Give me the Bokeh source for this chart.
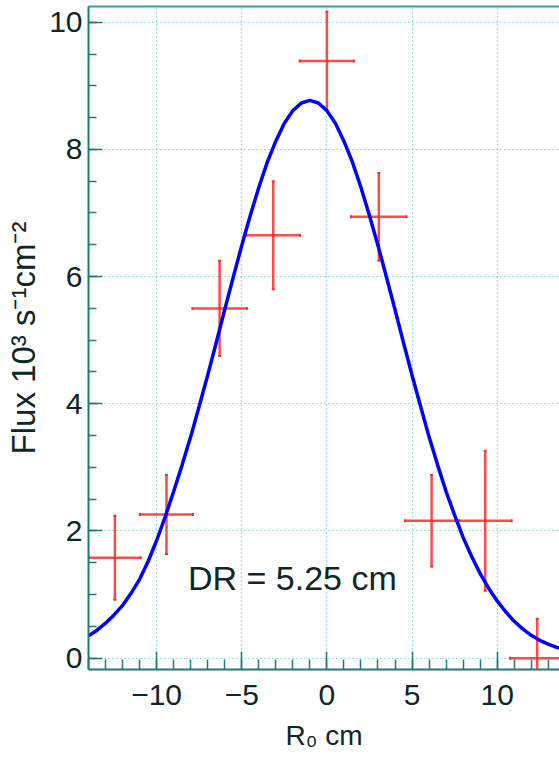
from bokeh.plotting import figure
from bokeh.models import (ColumnDataSource, Range1d, SingleIntervalTicker, LinearAxis,
                          FixedTicker, Whisker, TeeHead, Label)
from bokeh.embed import file_html
from bokeh.resources import INLINE

# ---- data ----
r0 = [-12.45, -9.42, -6.3, -3.15, 0.0, 3.05, 6.15, 9.3, 12.35]
flux = [1.58, 2.26, 5.50, 6.65, 9.39, 6.94, 2.16, 2.16, 0.0]
r0_err = [1.52, 1.56, 1.6, 1.57, 1.6, 1.63, 1.57, 1.55, 1.6]
flux_err = [0.66, 0.62, 0.75, 0.85, 0.78, 0.69, 0.72, 1.10, 0.62]

fit_x = [-14.0, -13.5, -13.0, -12.5, -12.0, -11.5, -11.0, -10.5, -10.0, -9.5,
         -9.0, -8.5, -8.0, -7.5, -7.0, -6.5, -6.0, -5.5, -5.0, -4.5,
         -4.0, -3.5, -3.0, -2.5, -2.0, -1.5, -1.0, -0.5, 0.0, 0.5,
         1.0, 1.5, 2.0, 2.5, 3.0, 3.5, 4.0, 4.5, 5.0, 5.5,
         6.0, 6.5, 7.0, 7.5, 8.0, 8.5, 9.0, 9.5, 10.0, 10.5,
         11.0, 11.5, 12.0, 12.5, 13.0, 13.5, 14.0]
fit_y = [0.35, 0.44, 0.55, 0.68, 0.83, 1.02, 1.24, 1.52, 1.85, 2.22,
         2.62, 3.04, 3.48, 3.96, 4.45, 4.96, 5.48, 5.99, 6.49, 6.96,
         7.40, 7.80, 8.13, 8.41, 8.61, 8.73, 8.77, 8.73, 8.61, 8.41,
         8.13, 7.80, 7.40, 6.96, 6.49, 5.99, 5.48, 4.96, 4.45, 3.96,
         3.48, 3.04, 2.62, 2.25, 1.90, 1.60, 1.33, 1.10, 0.90, 0.73,
         0.58, 0.46, 0.36, 0.28, 0.22, 0.17, 0.13]

x_ticks_labels = {-10: "\u221210", -5: "\u22125", 0: "0", 5: "5", 10: "10"}
annotation = "DR = 5.25 cm"
x_title = "R\u2080 cm"
y_title = "Flux 10\u00b3 s\u207b\u00b9cm\u207b\u00b2"

FONT = "Liberation Sans"
TXT = "#0d2626"
AX = "#1f7878"
RED = "#ff2a2a"

src = ColumnDataSource(dict(
    x=r0, y=flux,
    xl=[a - b for a, b in zip(r0, r0_err)], xu=[a + b for a, b in zip(r0, r0_err)],
    yl=[a - b for a, b in zip(flux, flux_err)], yu=[a + b for a, b in zip(flux, flux_err)],
))

p = figure(width=559, height=760, output_backend="svg", toolbar_location=None,
           x_range=Range1d(-14.0, 13.66), y_range=Range1d(-0.178, 10.247),
           min_border_left=88, min_border_right=0, min_border_top=6, min_border_bottom=91,
           x_axis_label=x_title, y_axis_label=y_title)
p.outline_line_color = None
p.background_fill_color = "white"
p.border_fill_color = "white"

# axes
p.xaxis.ticker = SingleIntervalTicker(interval=5, num_minor_ticks=5)
p.yaxis.ticker = SingleIntervalTicker(interval=2, num_minor_ticks=4)
p.xaxis.major_label_overrides = x_ticks_labels
for ax in (p.xaxis, p.yaxis):
    ax.axis_line_color = AX
    ax.axis_line_width = 2
    ax.major_tick_line_color = AX
    ax.minor_tick_line_color = AX
    ax.major_tick_line_width = 1.5
    ax.minor_tick_line_width = 1.5
    ax.major_tick_out = 0
    ax.minor_tick_out = 0
    ax.major_label_text_font = FONT
    ax.major_label_text_font_size = "30px"
    ax.major_label_text_color = TXT
    ax.axis_label_text_font = FONT
    ax.axis_label_text_font_style = "normal"
    ax.axis_label_text_color = TXT
p.xaxis.axis_label_text_font_size = "28px"
p.yaxis.axis_label_text_font_size = "33px"
p.xaxis.major_tick_in = 18
p.xaxis.minor_tick_in = 10
p.yaxis.major_tick_in = 14
p.yaxis.minor_tick_in = 8
p.xaxis.major_label_standoff = 15
p.xaxis.axis_label_standoff = 12
p.yaxis.major_label_standoff = 6
p.yaxis.axis_label_standoff = 4

top = LinearAxis(ticker=FixedTicker(ticks=[]), axis_line_color="#30a0a0", axis_line_width=2,
                 major_tick_line_color=None, minor_tick_line_color=None,
                 major_label_standoff=0)
p.add_layout(top, "above")

# grid
for g in (p.xgrid, p.ygrid):
    g.grid_line_color = "#2ec4c4"
    g.grid_line_dash = "1 3"
    g.grid_line_width = 1.2

# fit curve
p.line(fit_x, fit_y, line_color="#0000ff", line_width=3.5)

# error bars
p.add_layout(Whisker(source=src, base="y", lower="xl", upper="xu", dimension="width",
                     line_color=RED, line_width=2.5, line_alpha=0.85,
                     lower_head=TeeHead(size=3, line_color=RED, line_width=2),
                     upper_head=TeeHead(size=3, line_color=RED, line_width=2)))
p.add_layout(Whisker(source=src, base="x", lower="yl", upper="yu", dimension="height",
                     line_color=RED, line_width=2.5, line_alpha=0.85,
                     lower_head=TeeHead(size=3, line_color=RED, line_width=2),
                     upper_head=TeeHead(size=3, line_color=RED, line_width=2)))

p.add_layout(Label(x=-8.16, y=1.255, text=annotation, text_font=FONT, text_font_size="34px",
                   text_color=TXT, text_baseline="alphabetic"))

open("out.html", "w").write(file_html(p, INLINE))
